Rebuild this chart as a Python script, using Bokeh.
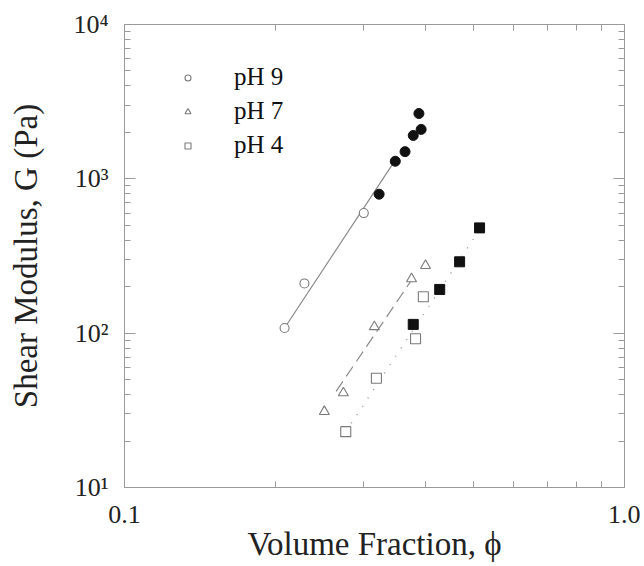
from bokeh.plotting import figure
from bokeh.models import LogAxis, FixedTicker, Legend, LegendItem, Range1d
from bokeh.embed import file_html
from bokeh.resources import INLINE

# ---- data ----
ph9_open_x = [0.209, 0.229, 0.301]
ph9_open_y = [108, 210, 600]
ph9_filled_x = [0.323, 0.348, 0.364, 0.378, 0.388, 0.392]
ph9_filled_y = [795, 1300, 1500, 1910, 2650, 2090]
ph9_fit_x = [0.209, 0.344]
ph9_fit_y = [108, 1250]

ph7_x = [0.251, 0.274, 0.316, 0.375, 0.400]
ph7_y = [31, 41, 110, 225, 274]
ph7_fit_x = [0.265, 0.38]
ph7_fit_y = [42, 235]

ph4_open_x = [0.277, 0.319, 0.382, 0.396]
ph4_open_y = [23, 51, 92, 172]
ph4_filled_x = [0.378, 0.427, 0.468, 0.513]
ph4_filled_y = [114, 192, 290, 481]
ph4_fit_x = [0.277, 0.52]
ph4_fit_y = [23, 500]

legend_labels = ["pH 9", "pH 7", "pH 4"]
x_major = [0.1, 1.0]
x_minor = [0.2, 0.3, 0.4, 0.5, 0.6, 0.7, 0.8, 0.9]
y_major = [10, 100, 1000, 10000]
y_minor = [m * d for d in [10, 100, 1000] for m in range(2, 10)]
x_labels = {0.1: "0.1", 1: "1.0"}
y_labels = {10: "10\u00b9", 100: "10\u00b2", 1000: "10\u00b3", 10000: "10\u2074"}

FONT = "Liberation Serif"
AX = "#9a9a9a"
GREY = "#7a7a7a"
TXT = "#222222"

p = figure(width=640, height=566, x_axis_type="log", y_axis_type="log",
           x_range=Range1d(0.1, 1.0), y_range=Range1d(10, 10000),
           output_backend="svg", toolbar_location=None,
           min_border_left=124, min_border_top=24, min_border_right=16, min_border_bottom=79)
p.frame_width = 500
p.frame_height = 463
p.xgrid.visible = False
p.ygrid.visible = False
p.outline_line_color = AX
p.background_fill_color = "white"
p.border_fill_color = "white"

def style_axis(ax, major, minor, labels, show_labels):
    ax.ticker = FixedTicker(ticks=major, minor_ticks=minor)
    ax.axis_line_color = AX
    ax.major_tick_line_color = AX
    ax.minor_tick_line_color = AX
    ax.major_tick_in = 11
    ax.major_tick_out = 0
    ax.minor_tick_in = 6
    ax.minor_tick_out = 0
    if show_labels:
        ax.major_label_overrides = labels
        ax.major_label_text_font = FONT
        ax.major_label_text_font_size = "26px"
        ax.major_label_text_color = TXT
        ax.axis_label_text_font = FONT
        ax.axis_label_text_font_size = "33px"
        ax.axis_label_text_font_style = "normal"
        ax.axis_label_text_color = TXT
    else:
        ax.major_label_text_font_size = "1px"
        ax.major_label_text_alpha = 0
        ax.major_label_standoff = 0

style_axis(p.xaxis[0], x_major, x_minor, x_labels, True)
style_axis(p.yaxis[0], y_major, y_minor, y_labels, True)
p.xaxis[0].axis_label = "Volume Fraction, \u03d5"
p.yaxis[0].axis_label = "Shear Modulus, G (Pa)"
p.xaxis[0].major_label_standoff = 18
p.yaxis[0].major_label_standoff = 16
p.xaxis[0].axis_label_standoff = 0
p.yaxis[0].axis_label_standoff = 26

top = LogAxis()
right = LogAxis()
style_axis(top, x_major, x_minor, x_labels, False)
style_axis(right, y_major, y_minor, y_labels, False)
p.add_layout(top, "above")
p.add_layout(right, "right")

# fit lines
p.line(ph9_fit_x, ph9_fit_y, line_color="#8a8a8a", line_width=1.2)
p.line(ph7_fit_x, ph7_fit_y, line_color="#8a8a8a", line_width=1.2, line_dash="12 6")
p.line(ph4_fit_x, ph4_fit_y, line_color="#9a9a9a", line_width=1.4, line_dash="1 9")

# markers
r9 = p.scatter(ph9_open_x, ph9_open_y, marker="circle", size=9, line_color=GREY, fill_color="white", line_width=1.1)
p.scatter(ph9_filled_x, ph9_filled_y, marker="circle", size=10, line_color="#111111", fill_color="#111111")
r7 = p.scatter(ph7_x, ph7_y, marker="triangle", size=10, line_color=GREY, fill_color="white", line_width=1.1)
r4 = p.scatter(ph4_open_x, ph4_open_y, marker="square", size=10, line_color=GREY, fill_color="white", line_width=1.1)
p.scatter(ph4_filled_x, ph4_filled_y, marker="square", size=10, line_color="#111111", fill_color="#111111")

legend = Legend(items=[LegendItem(label=legend_labels[0], renderers=[r9]),
                       LegendItem(label=legend_labels[1], renderers=[r7]),
                       LegendItem(label=legend_labels[2], renderers=[r4])],
                location=(56, 328), padding=0, margin=0, spacing=6,
                glyph_width=15, glyph_height=15, label_standoff=39,
                label_text_font=FONT, label_text_font_size="25px", label_text_color="#111111",
                border_line_color=None, background_fill_alpha=0)
p.add_layout(legend, "center")

open("out.html", "w").write(file_html(p, INLINE))
